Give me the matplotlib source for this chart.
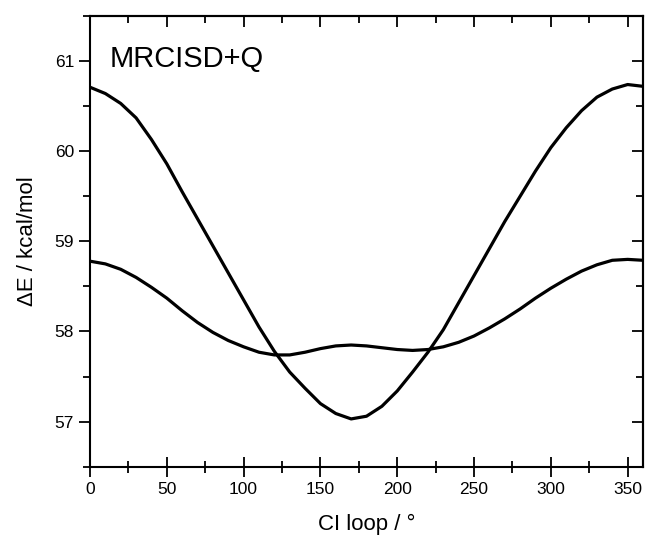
import matplotlib
matplotlib.use("Agg")
import matplotlib.pyplot as plt
from matplotlib.ticker import MultipleLocator

plt.rcParams['font.family'] = ['Liberation Sans', 'DejaVu Sans']

angle = list(range(0, 361, 10))
upper_curve = [60.71, 60.64, 60.53, 60.37, 60.13, 59.86, 59.55, 59.25, 58.95, 58.65,
               58.35, 58.05, 57.78, 57.55, 57.37, 57.20, 57.09, 57.03, 57.06, 57.17,
               57.34, 57.55, 57.77, 58.02, 58.32, 58.62, 58.92, 59.22, 59.50, 59.78,
               60.04, 60.26, 60.45, 60.60, 60.69, 60.74, 60.72]
lower_curve = [58.78, 58.75, 58.69, 58.60, 58.49, 58.37, 58.23, 58.10, 57.99, 57.90,
               57.83, 57.77, 57.74, 57.74, 57.77, 57.81, 57.84, 57.85, 57.84, 57.82,
               57.80, 57.79, 57.80, 57.83, 57.88, 57.95, 58.04, 58.14, 58.25, 58.37,
               58.48, 58.58, 58.67, 58.74, 58.79, 58.80, 58.79]
xticks = [0, 50, 100, 150, 200, 250, 300, 350]
yticks = [57, 58, 59, 60, 61]

fig = plt.figure(figsize=(6.48, 5.36), dpi=100)
ax = fig.add_axes([0.1389, 0.1293, 0.9923 - 0.1389, 0.9701 - 0.1293])

ax.plot(angle, upper_curve, color='black', lw=2.3, solid_joinstyle='round')
ax.plot(angle, lower_curve, color='black', lw=2.3, solid_joinstyle='round')

ax.set_xlim(0, 360)
ax.set_ylim(56.5, 61.5)
ax.set_xticks(xticks)
ax.set_yticks(yticks)
ax.xaxis.set_minor_locator(MultipleLocator(25))
ax.yaxis.set_minor_locator(MultipleLocator(0.5))

for s in ax.spines.values():
    s.set_linewidth(1.5)

ax.tick_params(axis='both', which='both', labelsize=12.5, width=1.3)
ax.tick_params(axis='y', which='major', direction='out', length=8, left=True, right=False)
ax.tick_params(axis='y', which='minor', direction='out', length=5, left=True, right=False)
ax.tick_params(axis='x', which='major', direction='inout', length=14, bottom=True, top=False, pad=4)
ax.tick_params(axis='x', which='minor', direction='inout', length=9, bottom=True, top=False)

# top and right inward ticks
axt = ax.secondary_xaxis('top')
axt.set_xticks(xticks)
axt.xaxis.set_minor_locator(MultipleLocator(25))
axt.tick_params(which='major', direction='in', length=8, width=1.3, labeltop=False)
axt.tick_params(which='minor', direction='in', length=5, width=1.3)
axr = ax.secondary_yaxis('right')
axr.set_yticks(yticks)
axr.yaxis.set_minor_locator(MultipleLocator(0.5))
axr.tick_params(which='major', direction='in', length=8, width=1.3, labelright=False)
axr.tick_params(which='minor', direction='in', length=5, width=1.3)
axt.spines['top'].set_linewidth(1.5)
axr.spines['right'].set_linewidth(1.5)

ax.set_xlabel('CI loop / °', fontsize=16, labelpad=12)
ax.set_ylabel('ΔE / kcal/mol', fontsize=16, labelpad=12)
ax.text(0.036, 0.936, 'MRCISD+Q', transform=ax.transAxes, fontsize=21,
        ha='left', va='top')

fig.savefig('out.png', dpi=100)
